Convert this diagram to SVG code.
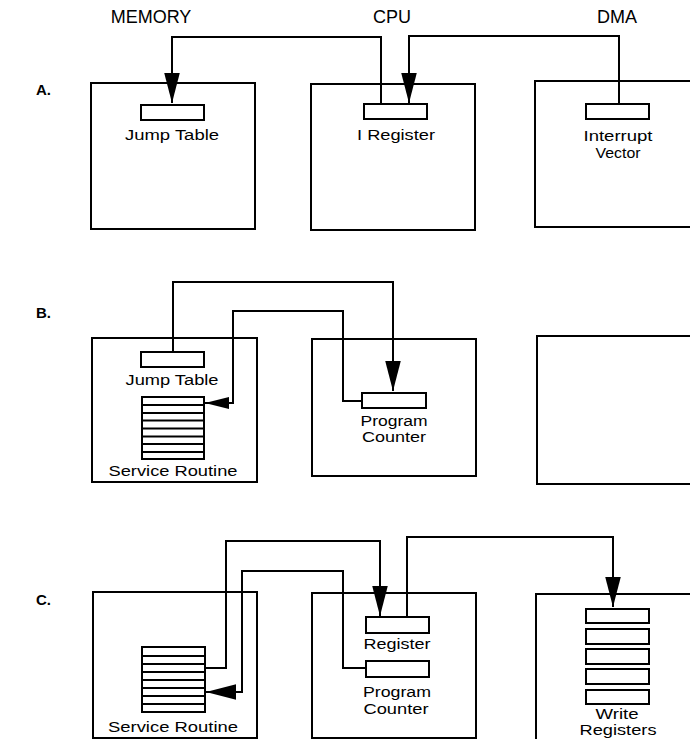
<svg xmlns="http://www.w3.org/2000/svg" width="690" height="739" viewBox="0 0 690 739">
<style>
.box{fill:none;stroke:#000;stroke-width:2}
.reg{fill:#fff;stroke:#000;stroke-width:2}
.ln{fill:none;stroke:#000;stroke-width:2}
.conn{fill:none;stroke:#000;stroke-width:2;marker-end:url(#ah)}
.conn.s{marker-end:url(#ahs)}
.hdr{font-family:"Liberation Sans",Arial,sans-serif;font-size:18px;text-anchor:middle;fill:#000}
.lbl{font-family:"Liberation Sans",Arial,sans-serif;font-size:15.5px;text-anchor:middle;fill:#000}
.sec{font-family:"Liberation Sans",Arial,sans-serif;font-size:15px;font-weight:bold;fill:#000}
</style>
<defs>
<marker id="ah" markerUnits="userSpaceOnUse" markerWidth="30" markerHeight="16" viewBox="0 0 27 14" refX="27" refY="7" orient="auto">
<path d="M0,0 L27,7 L0,14 Z" fill="#000"/>
</marker>
<marker id="ahs" markerUnits="userSpaceOnUse" markerWidth="24" markerHeight="12" viewBox="0 0 22 11" refX="22" refY="5.5" orient="auto">
<path d="M0,0 L22,5.5 L0,11 Z" fill="#000"/>
</marker>
</defs>
<rect width="690" height="739" fill="#fff"/>
<g id="headers">
<text class="hdr" x="151" y="23">MEMORY</text>
<text class="hdr" x="392" y="23">CPU</text>
<text class="hdr" x="617" y="23">DMA</text>
<text class="sec" x="36" y="95">A.</text>
<text class="sec" x="36" y="318">B.</text>
<text class="sec" x="36" y="605">C.</text>
</g>
<!-- Section A -->
<g id="a-memory">
<rect class="box" x="91" y="83" width="164" height="146"/>
<rect class="reg" x="141" y="105" width="63" height="15"/>
<text class="lbl" x="172" y="140" textLength="94" lengthAdjust="spacingAndGlyphs">Jump Table</text>
</g>
<g id="a-cpu">
<rect class="box" x="311" y="84" width="164" height="146"/>
<rect class="reg" x="364" y="104" width="63" height="15"/>
<text class="lbl" x="396" y="140" textLength="78" lengthAdjust="spacingAndGlyphs">I Register</text>
</g>
<g id="a-dma">
<path class="box" d="M692,81 H535 V227 H692"/>
<rect class="reg" x="586" y="104" width="63" height="15"/>
<text class="lbl" x="618" y="141" textLength="69" lengthAdjust="spacingAndGlyphs">Interrupt</text>
<text class="lbl" x="618" y="158" textLength="45" lengthAdjust="spacingAndGlyphs">Vector</text>
</g>
<!-- Section B -->
<g id="b-memory">
<rect class="box" x="92" y="338" width="165" height="144"/>
<rect class="reg" x="141" y="352" width="63" height="15"/>
<text class="lbl" x="172" y="385" textLength="93" lengthAdjust="spacingAndGlyphs">Jump Table</text>
<rect class="reg" x="142" y="397" width="62" height="62"/>
<path class="ln" d="M142,405 H204 M142,413 H204 M142,420.5 H204 M142,428.5 H204 M142,436.5 H204 M142,444 H204 M142,452 H204"/>
<text class="lbl" x="173" y="476" textLength="129" lengthAdjust="spacingAndGlyphs">Service Routine</text>
</g>
<g id="b-cpu">
<rect class="box" x="312" y="339" width="164" height="137"/>
<rect class="reg" x="362" y="393" width="64" height="15"/>
<text class="lbl" x="394" y="426" textLength="67" lengthAdjust="spacingAndGlyphs">Program</text>
<text class="lbl" x="394" y="442" textLength="64" lengthAdjust="spacingAndGlyphs">Counter</text>
</g>
<g id="b-dma">
<path class="box" d="M692,336 H537 V484 H692"/>
</g>
<!-- Section C -->
<g id="c-memory">
<rect class="box" x="93" y="592" width="164" height="146"/>
<rect class="reg" x="142" y="647" width="63" height="65"/>
<path class="ln" d="M142,656 H205 M142,664 H205 M142,672 H205 M142,680 H205 M142,688 H205 M142,696 H205 M142,704 H205"/>
<text class="lbl" x="173" y="732" textLength="130" lengthAdjust="spacingAndGlyphs">Service Routine</text>
</g>
<g id="c-cpu">
<rect class="box" x="312" y="593" width="164" height="145"/>
<rect class="reg" x="366" y="617" width="63" height="16"/>
<text class="lbl" x="397" y="649" textLength="67" lengthAdjust="spacingAndGlyphs">Register</text>
<rect class="reg" x="366" y="661" width="63" height="16"/>
<text class="lbl" x="397" y="697" textLength="68" lengthAdjust="spacingAndGlyphs">Program</text>
<text class="lbl" x="396" y="714" textLength="65" lengthAdjust="spacingAndGlyphs">Counter</text>
</g>
<g id="c-dma">
<path class="box" d="M692,594 H536 V741"/>
<rect class="reg" x="586" y="609" width="63" height="14"/>
<rect class="reg" x="586" y="629" width="63" height="15"/>
<rect class="reg" x="586" y="649" width="63" height="15"/>
<rect class="reg" x="586" y="669" width="63" height="15"/>
<rect class="reg" x="586" y="690" width="63" height="14"/>
<text class="lbl" x="617" y="719" textLength="43" lengthAdjust="spacingAndGlyphs">Write</text>
<text class="lbl" x="618" y="735" textLength="77" lengthAdjust="spacingAndGlyphs">Registers</text>
</g>
<g id="connectors">
<path class="conn" d="M381,104 V37 H172 V103"/>
<path class="conn" d="M619,104 V36 H409 V103"/>
<path class="conn" d="M173,352 V282 H393 V391"/>
<path class="conn s" d="M362,401 H343 V311 H233 V403 H205"/>
<path class="conn" d="M205,668 H226 V541 H380 V616"/>
<path class="conn" d="M366,668 H343 V571 H242 V692 H206"/>
<path class="conn" d="M407,617 V537 H613 V607"/>
</g>
</svg>
